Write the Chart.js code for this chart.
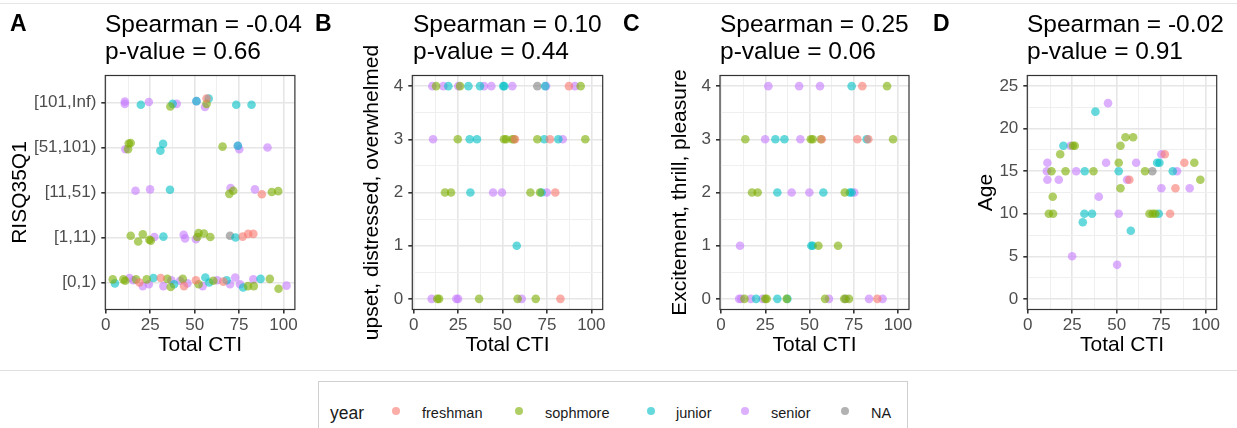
<!DOCTYPE html>
<html>
<head>
<meta charset="utf-8">
<script src="https://cdn.jsdelivr.net/npm/chart.js@4.4.1/dist/chart.umd.min.js"></script>
<style>
body { margin: 0; background: #fff; font-family: "Liberation Sans", Arial, sans-serif; }
#wrap { position: relative; width: 1237px; height: 428px; overflow: hidden; background: #fff; }
canvas { position: absolute; top: 0; }
.lab { position: absolute; top: 9.5px; font-size: 23px; font-weight: bold; line-height: 27px; color: #000; }
.ttl { position: absolute; top: 9.5px; font-size: 24.5px; line-height: 27px; color: #000; white-space: nowrap; }
.hline { position: absolute; left: 0; width: 1237px; height: 1px; background: #e6e6e6; }
#legend { position: absolute; left: 318px; top: 381px; width: 588px; height: 70px; border: 1px solid #cfcfcf; }
.lg { position: absolute; top: 413px; transform: translateY(-50%); font-size: 14.5px; color: #1a1a1a; white-space: nowrap; }
.dot { position: absolute; width: 8px; height: 8px; border-radius: 50%; top: 407px; }
</style>
</head>
<body>
<div id="wrap">
  <div class="hline" style="top:3px"></div>
  <div class="hline" style="top:370px;background:#e0e0e0"></div>

  <canvas id="cA" width="300" height="370" style="left:0px"></canvas>
  <canvas id="cB" width="310" height="370" style="left:300px"></canvas>
  <canvas id="cC" width="310" height="370" style="left:610px"></canvas>
  <canvas id="cD" width="317" height="370" style="left:920px"></canvas>

  <div class="lab" style="left:10px">A</div>
  <div class="lab" style="left:315px">B</div>
  <div class="lab" style="left:623px">C</div>
  <div class="lab" style="left:933px">D</div>
  <div class="ttl" style="left:105px">Spearman = -0.04<br>p-value = 0.66</div>
  <div class="ttl" style="left:413px">Spearman = 0.10<br>p-value = 0.44</div>
  <div class="ttl" style="left:720px">Spearman = 0.25<br>p-value = 0.06</div>
  <div class="ttl" style="left:1027px">Spearman = -0.02<br>p-value = 0.91</div>

  <div id="legend"></div>
  <div id="legendItems"></div>
</div>

<script>
// year groups and colours (ggplot default hues)
const years = ['freshman', 'sophmore', 'junior', 'senior', 'NA'];
const yearColors = ['#F8766D', '#7CAE00', '#00BFC4', '#C77CFF', '#7F7F7F'];

const riskLabels = ['[0,1)', '[1,11)', '[11,51)', '[51,101)', '[101,Inf)'];
const xTicks = [0, 25, 50, 75, 100];
const likertTicks = [0, 1, 2, 3, 4];
const ageTicks = [0, 5, 10, 15, 20, 25];

// Panel A: Total CTI vs RISQ35Q1 (category index, jittered)
const A_freshman = [[56.7,4.09],[87.8,1.96],[77.0,1.02],[80.1,1.08],[83.0,1.08],[18.9,0.0],[30.9,0.1],[44.0,-0.08],[50.7,0.05],[66.1,0.02]];
const A_sophmore = [[36.3,3.91],[56.7,3.97],[12.9,3.09],[14.0,3.1],[12.5,2.96],[65.7,3.02],[71.7,2.04],[69.5,1.97],[93.4,2.01],[97.0,2.03],
  [14.0,1.04],[18.2,0.91],[20.8,1.07],[25.3,0.93],[24.5,0.95],[51.5,1.01],[52.2,1.1],[55.2,1.09],[58.8,1.01],
  [3.9,0.07],[9.9,0.07],[10.9,0.04],[17.0,0.07],[23.0,0.07],[34.6,0.08],[36.5,-0.1],[43.3,0.08],[52.2,-0.04],[60.5,0.04],[80.0,-0.08],[83.3,-0.08],[92.3,0.08],[97.2,-0.14]];
const A_junior = [[19.7,3.95],[37.6,3.97],[51.0,4.03],[57.9,4.09],[73.4,3.95],[82.0,3.95],[32.2,3.08],[30.7,2.93],[74.3,3.04],[36.1,2.06],
  [32.4,1.02],[73.0,1.0],[5.1,-0.02],[26.8,0.1],[38.4,-0.04],[56.0,0.11],[58.2,0],[68.0,0.05],[77.3,-0.11],[87.1,0.08]];
const A_senior = [[10.7,4.02],[10.7,3.97],[24.2,4.01],[39.9,3.97],[51.0,4.03],[55.8,3.90],[11.0,2.96],[74.3,3.04],[75.1,2.96],[91.0,3.0],
  [16.7,2.04],[24.9,2.07],[70.2,2.1],[83.9,2.07],[27.3,1.01],[43.8,1.06],[44.6,0.98],[50.7,0.96],
  [13.3,0.1],[15.5,0.05],[20.8,-0.08],[24.2,-0.04],[32.4,-0.08],[36.9,0.05],[41.8,0.04],[45.9,-0.02],[54.5,-0.08],[62.7,0.05],[69.9,-0.04],[72.8,0.11],[75.5,-0.04],[83.0,0.07],[101.7,-0.07]];
const A_na = [[69.9,1.04]];

// Panel B: upset, distressed, overwhelmed
const B_freshman = [[87.4,4],[57,3],[76.7,3],[79.7,2],[82.6,0]];
const B_sophmore = [[12.6,4],[26.1,4],[94.0,4],[24.8,3],[50.8,3],[52.0,3],[55.5,3],[56.5,3],[69.6,3],[96.6,3],[17.6,2],[21.0,2],[65.7,2],[71.1,2],[13.3,0],[14.3,0],[36.8,0],[58.5,0],[68.7,0]];
const B_junior = [[19.5,4],[30.8,4],[37.3,4],[50.4,4],[51.0,4],[74.0,4],[31.5,3],[35.6,3],[73.5,3],[81.4,3],[31.9,2],[72.0,2],[58.0,1]];
const B_senior = [[10.5,4],[16.7,4],[25.1,4],[39.6,4],[43.7,4],[55.5,4],[74.5,4],[90.8,4],[10.9,3],[83.9,3],[44.7,2],[49.7,2],[74.9,2],[10.1,0],[24.0,0],[25.0,0],[60.8,0]];
const B_na = [[69.6,4]];

// Panel C: Excitement, thrill, pleasure
const C_freshman = [[79.8,4],[56.9,3],[77.0,3],[83.2,3],[88.3,0]];
const C_sophmore = [[93.8,4],[13.7,3],[50.7,3],[51.8,3],[56.4,3],[97.2,3],[17.5,2],[20.7,2],[69.9,2],[55.0,1],[66.1,1],[13.2,0],[24.9,0],[25.8,0],[37.1,0],[58.8,0],[69.6,0],[72.3,0]];
const C_junior = [[73.8,4],[30.7,3],[35.8,3],[82.3,3],[31.8,2],[57.8,2],[72.7,2],[73.8,2],[51.0,1],[51.8,1],[19.8,0],[31.8,0],[37.5,0]];
const C_senior = [[26.7,4],[44.1,4],[55.9,4],[24.9,3],[44.8,3],[39.9,2],[49.9,2],[75.3,2],[10.7,1],[10.2,0],[11.3,0],[16.8,0],[23.5,0],[61.0,0],[83.6,0],[91.3,0]];
const C_na = [[70.4,0]];

// Panel D: Age
const D_freshman = [[77.0,17],[88.0,16],[57.1,14],[83.0,13],[80.0,10]];
const D_sophmore = [[54.9,19],[59.2,19],[25.3,18],[26.4,18],[52.1,18],[18.2,17],[51.1,16],[93.6,16],[13.3,15],[21.2,15],[36.9,15],[65.9,15],[97.0,14],[52.1,13],[14.0,12],[11.8,10],[14.2,10],[68.4,10],[70.2,10],[71.7,10]];
const D_junior = [[38.0,22],[20.0,18],[72.7,16],[74.0,16],[32.0,15],[51.1,15],[81.5,15],[31.8,10],[36.1,10],[73.6,10],[30.9,9],[57.9,8]];
const D_senior = [[45.1,23],[24.0,18],[75.1,17],[11.0,16],[44.0,16],[60.9,16],[10.7,15],[27.2,15],[83.9,15],[11.0,14],[17.4,14],[55.8,14],[75.1,13],[91.0,13],[39.9,12],[51.1,10],[24.9,5],[50.2,4]];
const D_na = [[70.0,15]];

function alpha(hex, a) {
    const n = parseInt(hex.slice(1), 16);
    return 'rgba(' + (n >> 16) + ',' + ((n >> 8) & 255) + ',' + (n & 255) + ',' + a + ')';
}

// full panel border drawn on top of the points
const frame = {
    id: 'frame',
    afterDatasetsDraw(chart) {
        const a = chart.chartArea, c = chart.ctx;
        c.save();
        c.strokeStyle = '#333333';
        c.lineWidth = 1.2;
        c.strokeRect(a.left, a.top, a.right - a.left, a.bottom - a.top);
        c.restore();
    }
};

const FONT = '"Liberation Sans", Arial, sans-serif';

// major + minor grid positions
function withMinor(major) {
    const out = [];
    for (let i = 0; i < major.length; i++) {
        out.push(major[i]);
        if (i < major.length - 1) out.push((major[i] + major[i + 1]) / 2);
    }
    return out;
}

function makeAxis(opts) {
    const major = opts.major;
    const all = opts.minor ? withMinor(major) : major;
    const isMajor = v => major.indexOf(v) >= 0;
    return {
        type: 'linear',
        min: opts.min,
        max: opts.max,
        afterBuildTicks: s => { s.ticks = all.map(v => ({ value: v })); },
        afterFit: s => { if (opts.width) s.width = opts.width; if (opts.height) s.height = opts.height; },
        border: { display: false },
        grid: {
            color: c => (c.tick && isMajor(c.tick.value)) ? '#E6E6E6' : '#EFEFEF',
            lineWidth: c => (c.tick && isMajor(c.tick.value)) ? 1.6 : 1,
            tickColor: c => (c.tick && isMajor(c.tick.value)) ? '#333333' : 'rgba(0,0,0,0)',
            tickLength: 4,
            drawTicks: true
        },
        ticks: {
            autoSkip: false,
            maxRotation: 0,
            padding: opts.tickPad,
            color: '#4D4D4D',
            font: { family: FONT, size: 17 },
            callback: v => isMajor(v) ? (opts.labels ? opts.labels[v] : String(v)) : ''
        },
        title: {
            display: true,
            text: opts.title,
            color: '#000',
            font: { family: FONT, size: 21 },
            padding: opts.titlePad
        }
    };
}

function panel(id, groups, p) {
    const datasets = groups.map((pts, i) => ({
        label: years[i],
        data: pts.map(d => ({ x: d[0], y: d[1] })),
        backgroundColor: alpha(yearColors[i], 0.6),
        borderWidth: 0,
        pointRadius: 4.3
    }));
    new Chart(document.getElementById(id), {
        type: 'scatter',
        data: { datasets: datasets },
        options: {
            responsive: false,
            animation: false,
            events: [],
            layout: { autoPadding: false, padding: { left: 0, right: p.padRight, top: 75.5, bottom: 0 } },
            plugins: { legend: { display: false }, tooltip: { enabled: false } },
            scales: {
                x: makeAxis({ min: p.xMin, max: p.xMax, major: xTicks, minor: true, height: 60.5, tickPad: 2,
                              title: 'Total CTI', titlePad: { top: 0, bottom: 11.9 } }),
                y: makeAxis({ min: p.yMin, max: p.yMax, major: p.yMajor, minor: p.yMinor, width: p.yWidth, tickPad: 5,
                              labels: p.yLabels, title: p.yTitle, titlePad: { top: p.yTitlePad, bottom: 0 } })
            }
        },
        plugins: [frame]
    });
}

panel('cA', [A_freshman, A_sophmore, A_junior, A_senior, A_na], {
    xMin: -0.3, xMax: 106.4, yMin: -0.6, yMax: 4.6, yMajor: likertTicks, yMinor: false,
    yLabels: riskLabels, yTitle: 'RISQ35Q1', yWidth: 105.3, yTitlePad: 7.4, padRight: 5
});
panel('cB', [B_freshman, B_sophmore, B_junior, B_senior, B_na], {
    xMin: -0.8, xMax: 106.4, yMin: -0.2, yMax: 4.2, yMajor: likertTicks, yMinor: true,
    yTitle: 'upset, distressed, overwhelmed', yWidth: 112.3, yTitlePad: 59.4, padRight: 7.3
});
panel('cC', [C_freshman, C_sophmore, C_junior, C_senior, C_na], {
    xMin: -0.6, xMax: 106.2, yMin: -0.2, yMax: 4.2, yMajor: likertTicks, yMinor: true,
    yTitle: 'Excitement, thrill, pleasure', yWidth: 110, yTitlePad: 57.4, padRight: 11
});
panel('cD', [D_freshman, D_sophmore, D_junior, D_senior, D_na], {
    xMin: -0.3, xMax: 106.2, yMin: -1.25, yMax: 26.25, yMajor: ageTicks, yMinor: true,
    yTitle: 'Age', yWidth: 107.3, yTitlePad: 53.4, padRight: 20.3
});

// shared legend
const dotX = [392, 515, 647, 741, 841];
const textX = [422, 545, 676, 771, 871];
let html = '<div class="lg" style="left:330px;font-size:17.5px">year</div>';
years.forEach((y, i) => {
    html += '<div class="dot" style="left:' + dotX[i] + 'px;background:' + alpha(yearColors[i], 0.6) + '"></div>';
    html += '<div class="lg" style="left:' + textX[i] + 'px">' + y + '</div>';
});
document.getElementById('legendItems').innerHTML = html;
</script>
</body>
</html>
